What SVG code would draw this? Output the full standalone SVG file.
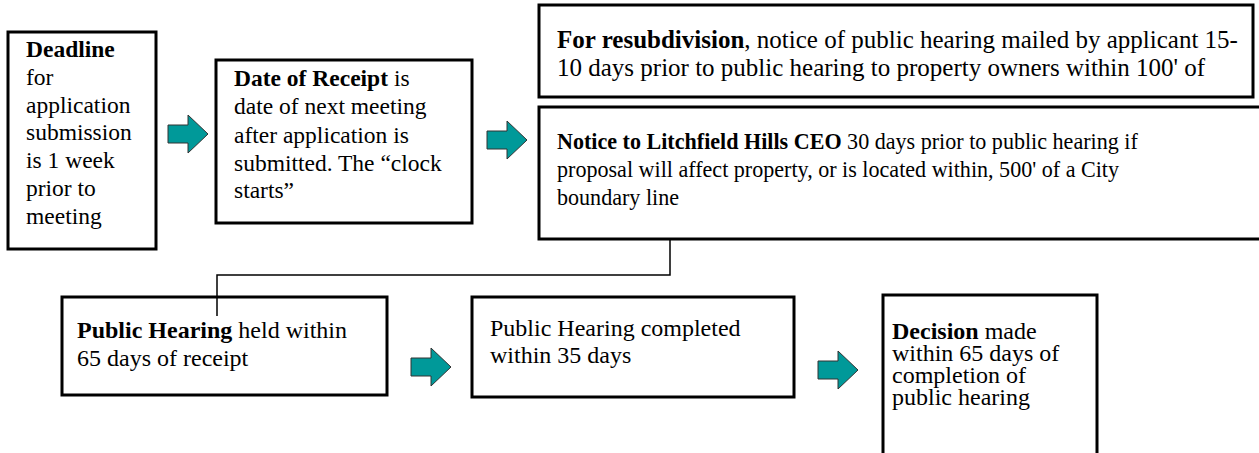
<svg xmlns="http://www.w3.org/2000/svg" width="1259" height="453" viewBox="0 0 1259 453">
  <style>
    .box { fill: #ffffff; stroke: #000000; stroke-width: 3; }
    .txt { font-family: "Liberation Serif", "Times New Roman", serif; font-size: 23.5px; fill: #000000; }
    .t25 { font-size: 25px; }
    .t24 { font-size: 24px; }
    .b { font-weight: bold; }
    .arrow { fill: #009999; stroke: #333333; stroke-width: 1; }
    .link { fill: none; stroke: #000000; stroke-width: 1.5; }
  </style>
  <defs>
    <!-- block arrow, 40 wide, centred on y=0 -->
    <path id="blockArrow" class="arrow" d="M0,-9 H20 V-19 L40,0 L20,19 V9 H0 Z"/>
  </defs>
  <rect width="1259" height="453" fill="#ffffff"/>

  <g id="deadline">
    <rect class="box" x="8" y="32" width="148" height="217"/>
    <text class="txt">
      <tspan x="26" y="57" class="b">Deadline</tspan>
      <tspan x="26" y="85">for</tspan>
      <tspan x="26" y="113">application</tspan>
      <tspan x="26" y="140">submission</tspan>
      <tspan x="26" y="168">is 1 week</tspan>
      <tspan x="26" y="196">prior to</tspan>
      <tspan x="26" y="224">meeting</tspan>
    </text>
  </g>

  <g id="receipt">
    <rect class="box" x="216" y="60" width="256" height="163"/>
    <text class="txt">
      <tspan x="234" y="86"><tspan class="b">Date of Receipt</tspan> is</tspan>
      <tspan x="234" y="114">date of next meeting</tspan>
      <tspan x="234" y="143">after application is</tspan>
      <tspan x="234" y="171">submitted. The “clock</tspan>
      <tspan x="234" y="198">starts”</tspan>
    </text>
  </g>

  <g id="resubdivision">
    <rect class="box" x="539" y="5" width="714" height="92"/>
    <text class="txt t25">
      <tspan x="557" y="48"><tspan class="b">For resubdivision</tspan>, notice of public hearing mailed by applicant 15-</tspan>
      <tspan x="557" y="76">10 days prior to public hearing to property owners within 100' of</tspan>
    </text>
  </g>

  <g id="ceo-notice">
    <rect class="box" x="539" y="107" width="724" height="132"/>
    <!-- slightly condensed face for the long notice lines -->
    <text class="txt" transform="translate(557,0) scale(0.94,1) translate(-557,0)">
      <tspan x="557" y="149"><tspan class="b">Notice to Litchfield Hills CEO</tspan> 30 days prior to public hearing if</tspan>
      <tspan x="557" y="177">proposal will affect property, or is located within, 500' of a City</tspan>
      <tspan x="557" y="205">boundary line</tspan>
    </text>
  </g>

  <g id="public-hearing">
    <rect class="box" x="62" y="297" width="325" height="98"/>
    <text class="txt t24">
      <tspan x="77" y="338"><tspan class="b">Public Hearing</tspan> held within</tspan>
      <tspan x="77" y="366">65 days of receipt</tspan>
    </text>
  </g>

  <g id="hearing-completed">
    <rect class="box" x="472" y="297" width="322" height="100"/>
    <text class="txt t24">
      <tspan x="490" y="336">Public Hearing completed</tspan>
      <tspan x="490" y="363">within 35 days</tspan>
    </text>
  </g>

  <g id="decision">
    <rect class="box" x="883" y="295" width="214" height="170"/>
    <text class="txt t24">
      <tspan x="892" y="339"><tspan class="b">Decision</tspan> made</tspan>
      <tspan x="892" y="361">within 65 days of</tspan>
      <tspan x="892" y="383">completion of</tspan>
      <tspan x="892" y="405">public hearing</tspan>
    </text>
  </g>

  <g id="connectors">
    <use href="#blockArrow" transform="translate(168,134)"/>
    <use href="#blockArrow" transform="translate(487,140)"/>
    <use href="#blockArrow" transform="translate(411,367)"/>
    <use href="#blockArrow" transform="translate(818,370)"/>
    <polyline class="link" points="670,239 670,275 217,275 217,316"/>
  </g>
</svg>
